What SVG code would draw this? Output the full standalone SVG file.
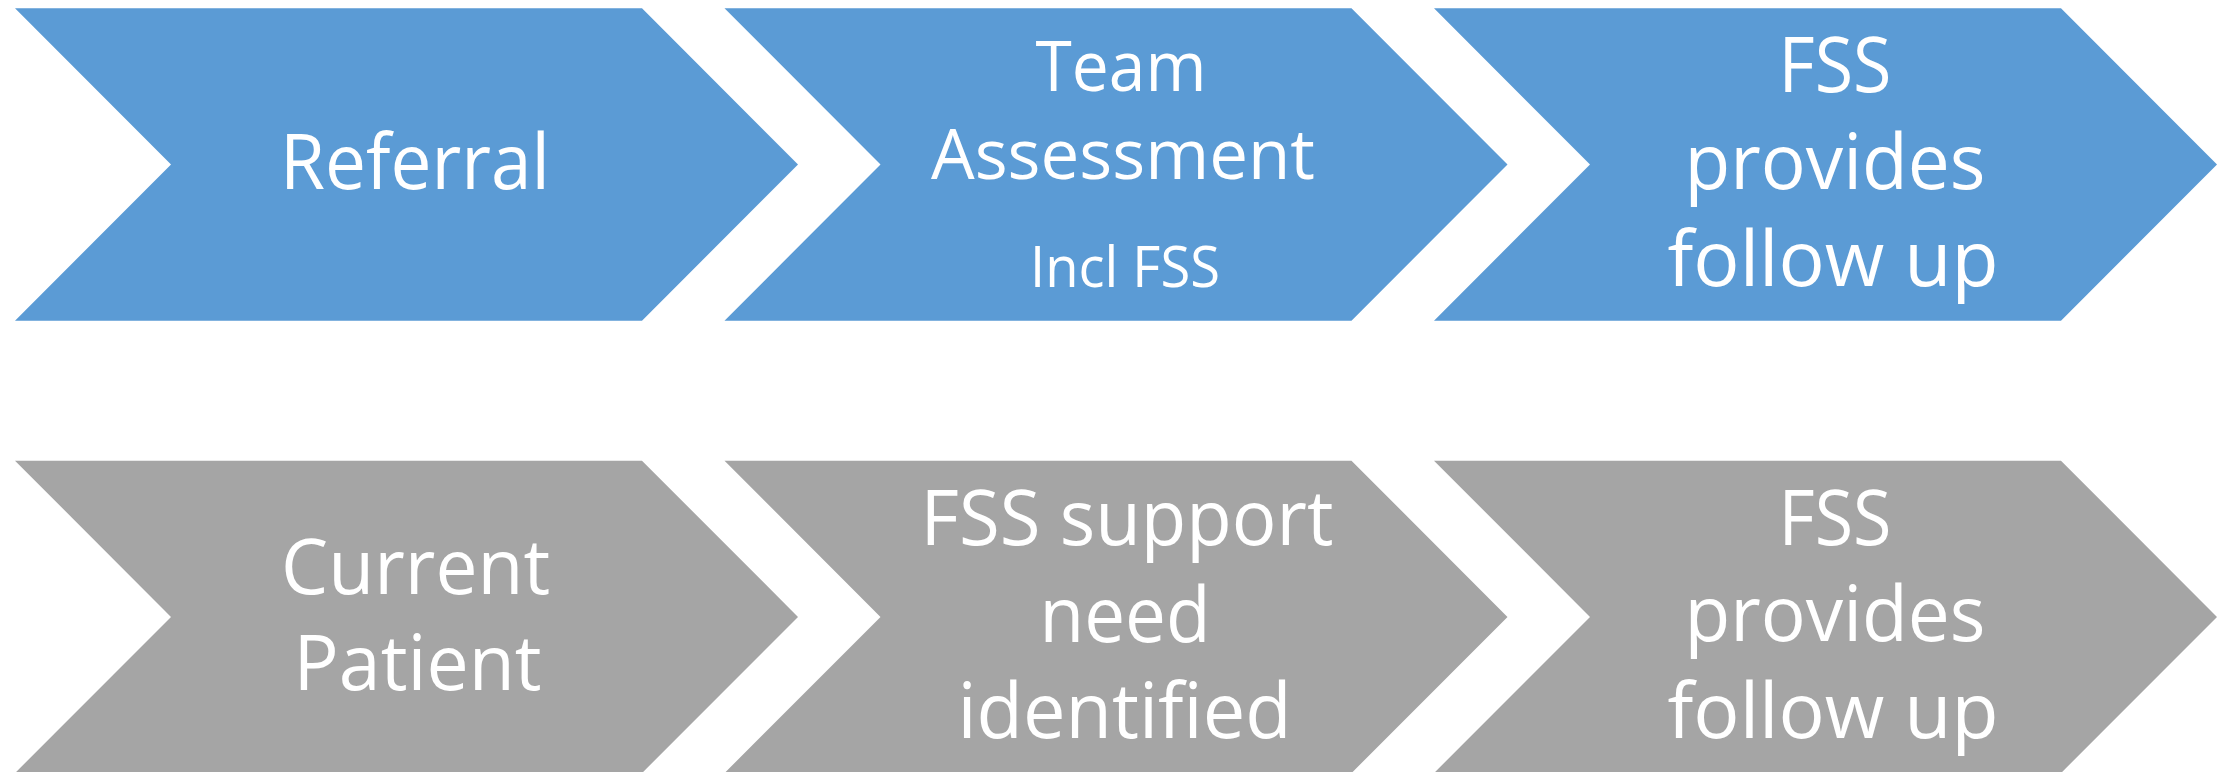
<svg xmlns="http://www.w3.org/2000/svg" width="2231" height="772" viewBox="0 0 2231 772">
  <style>
    .blue { fill: #5B9BD5; }
    .grey { fill: #A5A5A5; }
    text { font-family: "Open Sans", "Noto Sans", "Liberation Sans", sans-serif; fill: #FFFFFF; text-anchor: middle; font-variant-ligatures: none; }
    .big { font-size: 77px; }
    .mid { font-size: 70px; }
    .small { font-size: 56px; }
  </style>
  <defs>
    <!-- chevron shape: 627 wide body, 156 deep point, 312 tall -->
    <path id="chev" d="M0,0 H627 L783,156.2 L627,312.4 H0 L156,156.2 Z"/>
  </defs>
  <g id="connectors"/>

  <!-- top row -->
  <g id="referral">
    <use href="#chev" class="blue" x="15" y="8.3"/>
    <text class="big" x="415" y="189" textLength="270" lengthAdjust="spacingAndGlyphs">Referral</text>
  </g>
  <g id="team-assessment">
    <use href="#chev" class="blue" x="724.5" y="8.3"/>
    <text class="mid" x="1121" y="90.7" textLength="171" lengthAdjust="spacingAndGlyphs">Team</text>
    <text class="mid" x="1123" y="179" textLength="384" lengthAdjust="spacingAndGlyphs">Assessment</text>
    <text class="small" x="1125" y="287.3" textLength="190" lengthAdjust="spacingAndGlyphs">Incl FSS</text>
  </g>
  <g id="fss-follow-up-top">
    <use href="#chev" class="blue" x="1434" y="8.3"/>
    <text class="big" x="1835" y="92.3" textLength="113" lengthAdjust="spacingAndGlyphs">FSS</text>
    <text class="big" x="1835" y="189.3" textLength="301" lengthAdjust="spacingAndGlyphs">provides</text>
    <text class="big" x="1833" y="285.7" textLength="331" lengthAdjust="spacingAndGlyphs">follow up</text>
  </g>

  <!-- bottom row -->
  <g id="current-patient">
    <use href="#chev" class="grey" x="15" y="460.7"/>
    <text class="big" x="415.6" y="594" textLength="269" lengthAdjust="spacingAndGlyphs">Current</text>
    <text class="big" x="417.6" y="690" textLength="248" lengthAdjust="spacingAndGlyphs">Patient</text>
  </g>
  <g id="fss-support-need">
    <use href="#chev" class="grey" x="724.5" y="460.7"/>
    <text class="big" x="1127" y="545" textLength="413" lengthAdjust="spacingAndGlyphs">FSS support</text>
    <text class="big" x="1125" y="642" textLength="171" lengthAdjust="spacingAndGlyphs">need</text>
    <text class="big" x="1124.5" y="738.3" textLength="334" lengthAdjust="spacingAndGlyphs">identified</text>
  </g>
  <g id="fss-follow-up-bottom">
    <use href="#chev" class="grey" x="1434" y="460.7"/>
    <text class="big" x="1835" y="545" textLength="113" lengthAdjust="spacingAndGlyphs">FSS</text>
    <text class="big" x="1835" y="641.3" textLength="301" lengthAdjust="spacingAndGlyphs">provides</text>
    <text class="big" x="1833" y="738.3" textLength="331" lengthAdjust="spacingAndGlyphs">follow up</text>
  </g>
</svg>
